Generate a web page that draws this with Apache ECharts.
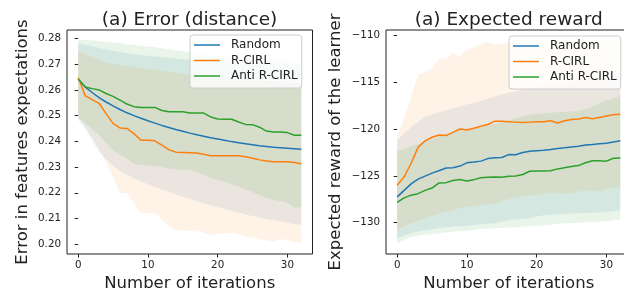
<!DOCTYPE html>
<html>
<head>
<meta charset="utf-8">
<script src="https://cdn.jsdelivr.net/npm/echarts@6/dist/echarts.min.js"></script>
<style>
  html, body { margin: 0; padding: 0; overflow: hidden; background: #fff; }
  #chart { width: 632px; height: 297px; }
</style>
</head>
<body>
<div id="chart"></div>
<script>
// iterations (x)
var iterations = [0,1,2,3,4,5,6,7,8,9,10,11,12,13,14,15,16,17,18,19,20,21,22,23,24,25,26,27,28,29,30,31,32];
var seriesNames = ['Random', 'R-CIRL', 'Anti R-CIRL'];
var xTicks = [0, 10, 20, 30];
var errTicks = [0.20, 0.21, 0.22, 0.23, 0.24, 0.25, 0.26, 0.27, 0.28];
var rewTicks = [-130, -125, -120, -115, -110];

// (a) Error (distance) - means
var errRandom = [0.2642,0.2612,0.2590,0.2570,0.2553,0.2538,0.2524,0.2511,0.2500,0.2490,0.2480,0.2471,0.2462,0.2454,0.2446,0.2439,0.2432,0.2426,0.2420,0.2414,0.2409,0.2404,0.2399,0.2395,0.2391,0.2387,0.2383,0.2380,0.2377,0.2375,0.2373,0.2371,0.2369];
var errRcirl = [0.2648,0.2578,0.2562,0.2548,0.2508,0.2470,0.2452,0.2450,0.2430,0.2404,0.2404,0.2402,0.2385,0.2368,0.2358,0.2357,0.2356,0.2355,0.2350,0.2344,0.2344,0.2344,0.2344,0.2344,0.2340,0.2334,0.2328,0.2324,0.2321,0.2321,0.2321,0.2318,0.2313];
var errAnti = [0.2642,0.2611,0.2605,0.2600,0.2586,0.2575,0.2560,0.2545,0.2535,0.2532,0.2532,0.2532,0.2520,0.2515,0.2515,0.2515,0.2510,0.2510,0.2510,0.2495,0.2487,0.2486,0.2486,0.2475,0.2466,0.2465,0.2455,0.2440,0.2436,0.2436,0.2434,0.2424,0.2424];
// bands
var errRandomLo = [0.2485,0.2450,0.2405,0.2360,0.2330,0.2305,0.2285,0.2270,0.2256,0.2244,0.2233,0.2223,0.2213,0.2203,0.2194,0.2185,0.2176,0.2168,0.2160,0.2152,0.2144,0.2137,0.2130,0.2123,0.2116,0.2110,0.2104,0.2099,0.2094,0.2089,0.2084,0.2079,0.2075];
var errRandomHi = [0.2781,0.2776,0.2770,0.2763,0.2757,0.2752,0.2747,0.2743,0.2739,0.2736,0.2733,0.2730,0.2727,0.2724,0.2721,0.2719,0.2717,0.2715,0.2713,0.2711,0.2710,0.2709,0.2708,0.2707,0.2706,0.2705,0.2704,0.2703,0.2702,0.2701,0.2700,0.2699,0.2697];
var errRcirlLo = [0.2495,0.2460,0.2415,0.2370,0.2320,0.2260,0.2200,0.2198,0.2160,0.2120,0.2120,0.2122,0.2095,0.2070,0.2053,0.2052,0.2052,0.2054,0.2045,0.2037,0.2040,0.2043,0.2045,0.2038,0.2030,0.2025,0.2020,0.2015,0.2011,0.2020,0.2015,0.2010,0.2007];
var errRcirlHi = [0.2751,0.2740,0.2728,0.2715,0.2708,0.2702,0.2697,0.2693,0.2689,0.2685,0.2682,0.2679,0.2676,0.2673,0.2668,0.2663,0.2659,0.2656,0.2653,0.2651,0.2649,0.2647,0.2645,0.2643,0.2641,0.2639,0.2637,0.2635,0.2633,0.2631,0.2629,0.2627,0.2625];
var errAntiLo = [0.2490,0.2470,0.2448,0.2425,0.2395,0.2365,0.2350,0.2333,0.2312,0.2309,0.2306,0.2303,0.2300,0.2294,0.2292,0.2290,0.2289,0.2282,0.2272,0.2258,0.2250,0.2244,0.2232,0.2224,0.2213,0.2203,0.2190,0.2180,0.2172,0.2168,0.2160,0.2142,0.2144];
var errAntiHi = [0.2795,0.2794,0.2792,0.2790,0.2787,0.2784,0.2781,0.2778,0.2775,0.2772,0.2769,0.2766,0.2762,0.2758,0.2754,0.2750,0.2746,0.2742,0.2739,0.2736,0.2733,0.2730,0.2728,0.2726,0.2724,0.2722,0.2720,0.2718,0.2716,0.2714,0.2712,0.2710,0.2708];

// (a) Expected reward - means
var rewRandom = [-127.24,-126.55,-125.85,-125.35,-125.02,-124.7,-124.45,-124.15,-124.12,-123.95,-123.6,-123.52,-123.42,-123.15,-123.05,-123.03,-122.72,-122.74,-122.5,-122.36,-122.3,-122.25,-122.18,-122.08,-122.0,-121.9,-121.82,-121.7,-121.65,-121.55,-121.5,-121.38,-121.25];
var rewRcirl = [-126.0,-125.1,-123.65,-121.95,-121.25,-120.87,-120.62,-120.69,-120.34,-119.98,-120.09,-119.9,-119.7,-119.5,-119.15,-119.15,-119.2,-119.25,-119.3,-119.25,-119.2,-119.2,-119.1,-119.35,-119.1,-118.98,-118.92,-118.75,-118.9,-118.75,-118.6,-118.46,-118.42];
var rewAnti = [-127.84,-127.35,-127.06,-126.9,-126.55,-126.3,-125.75,-125.72,-125.5,-125.38,-125.55,-125.4,-125.2,-125.15,-125.12,-125.15,-125.03,-125.0,-124.85,-124.5,-124.48,-124.48,-124.45,-124.25,-124.12,-124.0,-123.9,-123.6,-123.38,-123.38,-123.42,-123.12,-123.08];
// bands
var rewRandomLo = [-131.7,-131.4,-131.13,-130.95,-130.8,-130.7,-130.6,-130.5,-130.42,-130.38,-130.32,-130.25,-130.18,-130.12,-130.05,-129.9,-129.75,-129.7,-129.6,-129.5,-129.35,-129.2,-129.12,-129.1,-129.05,-129.02,-129.0,-128.98,-128.95,-128.9,-128.85,-128.75,-128.66];
var rewRandomHi = [-121.2,-120.5,-119.8,-119.2,-118.7,-118.45,-118.2,-118.0,-117.8,-117.6,-117.35,-117.2,-117.0,-116.75,-116.5,-116.3,-116.1,-115.95,-115.8,-115.65,-115.5,-115.35,-115.2,-115.1,-115.0,-114.9,-114.8,-114.65,-114.5,-114.4,-114.3,-114.15,-114.0];
var rewRcirlLo = [-130.8,-130.4,-130.07,-129.8,-129.55,-129.3,-129.05,-128.85,-128.66,-128.45,-128.3,-128.2,-128.12,-128.05,-127.95,-127.7,-127.5,-127.3,-127.2,-127.1,-127.05,-126.9,-126.75,-126.85,-126.9,-126.8,-126.7,-126.55,-126.6,-126.7,-126.4,-126.25,-126.18];
var rewRcirlHi = [-120.7,-118.9,-116.5,-114.2,-113.9,-113.5,-112.45,-112.55,-111.85,-112.2,-111.5,-111.25,-110.9,-110.7,-110.95,-110.85,-110.8,-110.8,-110.75,-110.75,-110.7,-110.7,-110.7,-110.65,-110.65,-110.65,-110.6,-110.6,-110.6,-110.6,-110.6,-110.6,-110.6];
var rewAntiLo = [-132.2,-131.85,-131.5,-131.4,-131.3,-131.2,-131.13,-131.05,-130.96,-130.92,-130.9,-130.8,-130.68,-130.64,-130.6,-130.55,-130.53,-130.48,-130.42,-130.35,-130.32,-130.28,-130.22,-130.15,-130.07,-130.04,-130.0,-129.95,-129.92,-129.9,-129.85,-129.75,-129.65];
var rewAntiHi = [-122.4,-122.1,-121.85,-121.6,-121.3,-121.0,-120.75,-120.5,-120.3,-120.05,-119.9,-119.8,-119.72,-119.6,-119.45,-119.25,-119.05,-118.85,-118.65,-118.45,-118.35,-118.3,-118.25,-118.2,-118.15,-118.1,-118.05,-117.9,-117.6,-117.2,-116.95,-116.75,-116.4];

window.onload = function(){
	var BLUE = '#1f77b4', ORANGE = '#ff7f0e', GREEN = '#2ca02c';
	var FONT = 'DejaVu Sans';
	var INK = '#222';

	function pairs(ys){
		return iterations.map(function(x, i){ return [x, ys[i]]; });
	}
	function minus(v){
		return String(v).replace('-', '\u2212');
	}

	// fill_between: one polygon, upper edge then lower edge back
	function band(g, lo, hi, color){
		return {
			type: 'custom', xAxisIndex: g, yAxisIndex: g,
			data: [[iterations[0], lo[0]]], silent: true, z: 1,
			renderItem: function(params, api){
				var top = iterations.map(function(x, i){ return api.coord([x, hi[i]]); });
				var bottom = iterations.map(function(x, i){ return api.coord([x, lo[i]]); }).reverse();
				return {
					type: 'polygon',
					shape: { points: top.concat(bottom) },
					style: { fill: echarts.color.modifyAlpha(color, 0.1), stroke: null }
				};
			}
		};
	}
	function mean(g, name, ys, color){
		return {
			type: 'line', name: name, xAxisIndex: g, yAxisIndex: g,
			data: pairs(ys), symbol: 'none', z: 3,
			itemStyle: { color: color },
			lineStyle: { color: color, width: 1.5 }
		};
	}

	function xAxis(g){
		return {
			gridIndex: g, type: 'value', min: -1.6, max: 33.6,
			splitLine: { show: false },
			axisLine: { show: false },
			axisTick: { show: true, customValues: xTicks, length: 3.5, lineStyle: { color: INK } },
			axisLabel: { customValues: xTicks, margin: 6, color: INK, fontFamily: FONT, fontSize: 10.3 },
			name: 'Number of iterations', nameLocation: 'middle', nameGap: 21,
			nameTextStyle: { color: INK, fontFamily: FONT, fontSize: 16.5 }
		};
	}
	function yAxis(g, min, max, ticks, name, gap, fmt){
		return {
			gridIndex: g, type: 'value', min: min, max: max,
			splitLine: { show: false },
			axisLine: { show: false },
			axisTick: { show: true, customValues: ticks, length: 3.5, lineStyle: { color: INK } },
			axisLabel: { customValues: ticks, margin: 6, color: INK, fontFamily: FONT, fontSize: 10.3, formatter: fmt },
			name: name, nameLocation: 'middle', nameGap: gap,
			nameTextStyle: { color: INK, fontFamily: FONT, fontSize: 16.5 }
		};
	}
	function legend(left, top, colors){
		return {
			data: seriesNames.map(function(n, i){
				return { name: n, itemStyle: { color: colors[i] } };
			}),
			orient: 'vertical', left: left, top: top,
			icon: 'rect', itemWidth: 26, itemHeight: 1.5, itemGap: 3.5,
			padding: [4, 4, 6, 4],
			backgroundColor: 'rgba(255,255,255,0.8)',
			borderColor: '#cccccc', borderWidth: 1, borderRadius: 3,
			textStyle: { color: INK, fontFamily: FONT, fontSize: 12, padding: [0, 0, 0, 6] },
			selectedMode: false
		};
	}

	var myChart = echarts.init(document.getElementById('chart'), null, { renderer: 'canvas' });
	var series = [
		band(0, errRandomLo, errRandomHi, BLUE),
		band(0, errRcirlLo, errRcirlHi, ORANGE),
		band(0, errAntiLo, errAntiHi, GREEN),
		band(1, rewRandomLo, rewRandomHi, BLUE),
		band(1, rewRcirlLo, rewRcirlHi, ORANGE),
		band(1, rewAntiLo, rewAntiHi, GREEN),
		mean(0, seriesNames[0], errRandom, BLUE),
		mean(0, seriesNames[1], errRcirl, ORANGE),
		mean(0, seriesNames[2], errAnti, GREEN),
		mean(1, seriesNames[0], rewRandom, BLUE),
		mean(1, seriesNames[1], rewRcirl, ORANGE),
		mean(1, seriesNames[2], rewAnti, GREEN)
	];
	var lineColors = [BLUE, ORANGE, GREEN];

	var option = {
		animation: false,
		backgroundColor: '#fff',
		title: [
			{ text: '(a) Error (distance)', left: 189.6, top: 11, textAlign: 'center', padding: 0,
			  textStyle: { color: INK, fontFamily: FONT, fontSize: 18.5, fontWeight: 'normal' } },
			{ text: '(a) Expected reward', left: 508.7, top: 11, textAlign: 'center', padding: 0,
			  textStyle: { color: INK, fontFamily: FONT, fontSize: 18.5, fontWeight: 'normal' } }
		],
		legend: [legend(190, 35, lineColors), legend(509, 36, lineColors)],
		grid: [
			{ left: 67, top: 30, width: 245.5, height: 226.5, show: true, borderColor: INK, borderWidth: 1, backgroundColor: 'transparent' },
			{ left: 386, top: 30, width: 245.5, height: 226.5, show: true, borderColor: INK, borderWidth: 1, backgroundColor: 'transparent' }
		],
		xAxis: [xAxis(0), xAxis(1)],
		yAxis: [
			yAxis(0, 0.1962, 0.2833, errTicks, 'Error in features expectations', 36, function(v){ return v.toFixed(2); }),
			yAxis(1, -133.35, -109.4, rewTicks, 'Expected reward of the learner', 42, minus)
		],
		series: series
	};
	myChart.setOption(option);
	window.addEventListener('resize', function(){
		myChart.resize();
	});
};
</script>
</body>
</html>
